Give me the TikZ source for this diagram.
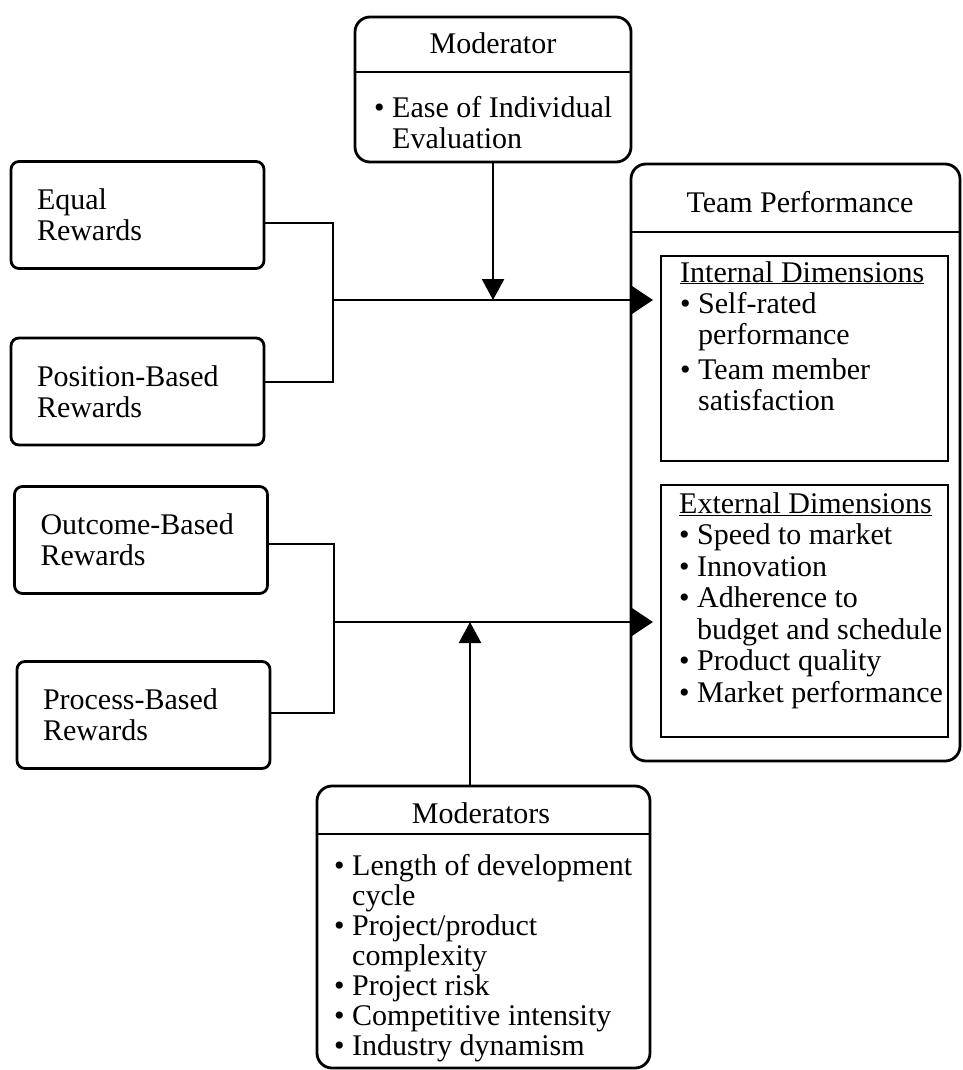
\documentclass[tikz,border=0pt]{standalone}
\usepackage{fontspec}
\setmainfont{Liberation Serif}
\usetikzlibrary{arrows.meta}

\newcommand{\itm}{\textbullet\ }
\newcommand{\itmgap}{\hphantom{\textbullet\ }}

\begin{document}
\begin{tikzpicture}[x=1pt,y=-1pt,
    every node/.style={font=\fontsize{30}{31}\selectfont},
    box/.style={draw, line width=2.8pt, rounded corners=15pt, inner sep=0pt},
    reward/.style={draw, line width=2.8pt, rounded corners=8pt, inner xsep=26pt, inner ysep=0pt,
      text width=201pt, minimum height=107pt, align=left},
    dim/.style={draw, line width=2pt, inner sep=0pt},
    txt/.style={anchor=base west, align=left, inner sep=0pt},
    conn/.style={line width=2.4pt},
    hconn/.style={conn, -{Triangle[length=23pt,width=30pt]}},
    vconn/.style={conn, -{Triangle[length=21pt,width=22pt]}}]
  \useasboundingbox (0,0) rectangle (962,1070);

  % moderator on top
  \node[box, minimum width=276pt, minimum height=145pt] at (493,89.5) (mod){};
  \coordinate (modcut) at (0,72);
  \draw[conn] (mod.west |- modcut) -- (mod.east |- modcut);
  \node[txt, anchor=base] at (493,54) (modtitle){Moderator};
  \node[txt] at (374,148) (modlist){\itm Ease of Individual\\\itmgap Evaluation};

  % reward types
  \node[reward] at (137.5,215) (equal){Equal\\Rewards};
  \node[reward] at (137.5,391.5) (position){Position-Based\\Rewards};
  \node[reward] at (141,540) (outcome){Outcome-Based\\Rewards};
  \node[reward] at (143.5,715) (process){Process-Based\\Rewards};

  % team performance
  \node[box, minimum width=329pt, minimum height=597pt] at (795.5,462.5) (team){};
  \coordinate (teamcut) at (0,232);
  \draw[conn] (team.west |- teamcut) -- (team.east |- teamcut);
  \node[txt, anchor=base] at (800,212) (teamtitle){Team Performance};
  \node[dim, minimum width=287pt, minimum height=205pt] at (804.5,358.5) (internal){};
  \node[txt] at (680,410) (intlist){\underline{Internal Dimensions}\\\itm Self-rated\\\itmgap performance\\[4pt]\itm Team member\\\itmgap satisfaction};
  \node[dim, minimum width=287pt, minimum height=252pt] at (804.5,611) (external){};
  \node[txt, font=\fontsize{30}{31.5}\selectfont] at (679,702) (extlist){\underline{External Dimensions}\\\itm Speed to market\\\itm Innovation\\\itm Adherence to\\\itmgap budget and schedule\\\itm Product quality\\\itm Market performance};

  % moderators at the bottom
  \node[box, minimum width=333pt, minimum height=282pt] at (483.5,927) (mods){};
  \coordinate (modscut) at (0,834);
  \draw[conn] (mods.west |- modscut) -- (mods.east |- modscut);
  \node[txt, anchor=base] at (481,823) (modstitle){Moderators};
  \node[txt, font=\fontsize{30}{30}\selectfont] at (334,1055) (modslist){\itm Length of development\\\itmgap cycle\\\itm Project/product\\\itmgap complexity\\\itm Project risk\\\itm Competitive intensity\\\itm Industry dynamism};

  % connectors
  \coordinate (busA) at (333,300);
  \coordinate (busB) at (334,622);
  \coordinate (teamA) at (653,300);
  \coordinate (teamB) at (653,622);
  \coordinate (modsin) at (470,622);
  \draw[conn] ([yshift=-8pt]equal.east) -| (busA) |- ([yshift=9.5pt]position.east);
  \draw[conn] ([yshift=-4pt]outcome.east) -| (busB) |- ([yshift=2pt]process.east);
  \draw[hconn] (busA) -- (teamA);
  \draw[hconn] (busB) -- (teamB);
  \draw[vconn] (mod.south) -- (mod.south |- busA);
  \draw[vconn] (mods.north -| modsin) -- (modsin);
\end{tikzpicture}
\end{document}
